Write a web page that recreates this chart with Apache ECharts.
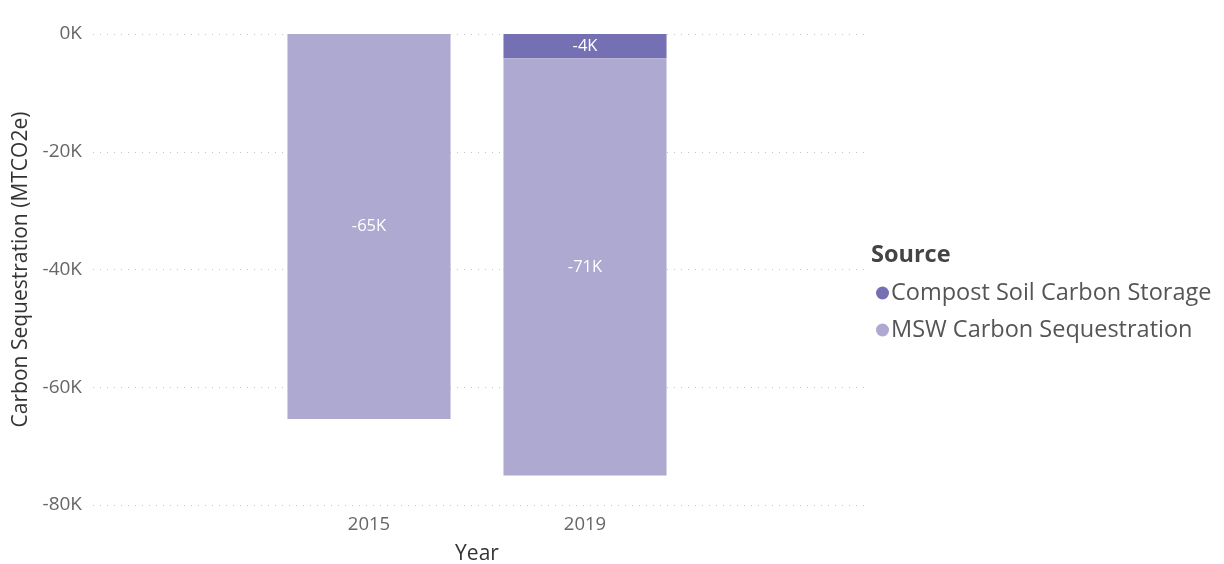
<!DOCTYPE html>
<html>
<head>
<meta charset="utf-8">
<script src="https://cdn.jsdelivr.net/npm/echarts@6/dist/echarts.min.js"></script>
<style>
  html, body { margin: 0; padding: 0; background: #fff; }
  #chart { width: 1224px; height: 564px; }
</style>
</head>
<body>
<div id="chart"></div>
<script>
// Carbon sequestration by source and year (MTCO2e)
const years = ['2015', '2019'];
const compostSoilStorage = [null, -4100];
const mswSequestration = [-65400, -70900];
const seriesNames = ['Compost Soil Carbon Storage', 'MSW Carbon Sequestration'];
const yTicks = { min: -80000, max: 0, interval: 20000 };

const FONT = '"Open Sans", "Noto Sans", sans-serif';
const kFmt = v => Math.round(v / 1000) + 'K';

const chart = echarts.init(document.getElementById('chart'));
chart.setOption({
  animation: false,
  textStyle: { fontFamily: FONT },
  title: {
    text: 'Source',
    left: 866, top: 238,
    textStyle: { fontFamily: FONT, fontSize: 23.5, fontWeight: 'bold', color: '#444' }
  },
  legend: {
    orient: 'vertical',
    left: 871, top: 276,
    icon: 'circle',
    itemWidth: 13, itemHeight: 13,
    itemGap: 13,
    textStyle: { fontFamily: FONT, fontSize: 23.5, color: '#555', padding: [0, 0, 0, -3] },
    data: seriesNames
  },
  // both grids share the same vertical extent so the value scales line up
  grid: [
    { left: 93, right: 354, top: 34, bottom: 59, outerBoundsMode: 'none', containLabel: false },
    { left: 261, width: 432, top: 34, bottom: 59, outerBoundsMode: 'none', containLabel: false }
  ],
  xAxis: [
    { gridIndex: 0, type: 'category', data: years, show: false },
    {
      gridIndex: 1, type: 'category', data: years,
      axisLine: { show: false }, axisTick: { show: false },
      axisLabel: { fontSize: 18.5, color: '#666', margin: 10 },
      name: 'Year', nameLocation: 'middle', nameGap: 39,
      nameTextStyle: { fontSize: 21, color: '#333' }
    }
  ],
  yAxis: [
    {
      gridIndex: 0, type: 'value',
      min: yTicks.min, max: yTicks.max, interval: yTicks.interval,
      axisLine: { show: false }, axisTick: { show: false },
      axisLabel: { fontSize: 19, color: '#666', margin: 11, formatter: v => (v / 1000) + 'K' },
      splitLine: { lineStyle: { type: [1, 6], color: '#c4c4c4', width: 1 } },
      name: 'Carbon Sequestration (MTCO2e)', nameLocation: 'middle', nameGap: 58,
      nameTextStyle: { fontSize: 21, color: '#333' }
    },
    {
      gridIndex: 1, type: 'value',
      min: yTicks.min, max: yTicks.max, interval: yTicks.interval,
      show: false
    }
  ],
  series: [
    {
      name: seriesNames[0], type: 'bar', stack: 'total',
      xAxisIndex: 1, yAxisIndex: 1,
      data: compostSoilStorage,
      barCategoryGap: '24.5%',
      itemStyle: { color: '#7570B3' },
      label: { show: true, position: 'inside', color: '#fff', fontSize: 16.5, formatter: p => kFmt(p.value) }
    },
    {
      name: seriesNames[1], type: 'bar', stack: 'total',
      xAxisIndex: 1, yAxisIndex: 1,
      data: mswSequestration,
      barCategoryGap: '24.5%',
      itemStyle: { color: '#ADA9D1' },
      label: { show: true, position: 'inside', color: '#fff', fontSize: 16.5, formatter: p => kFmt(p.value) }
    }
  ]
});
</script>
</body>
</html>
